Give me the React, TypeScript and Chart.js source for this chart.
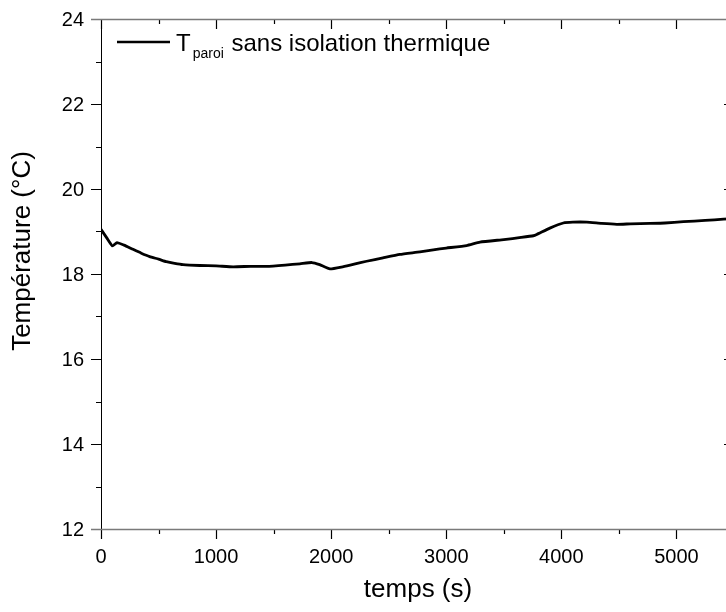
import React, { useEffect, useRef } from "react";
import { Chart, registerables } from "chart.js";

Chart.register(...registerables);

// Data
const times: number[] = [0, 50, 99, 139, 200, 278, 350, 423, 500, 568, 640, 713, 858, 1000, 1148, 1300, 1438, 1600, 1728, 1832, 1900, 1989, 2100, 2200, 2308, 2450, 2597, 2771, 2887, 3000, 3177, 3293, 3500, 3650, 3757, 3786, 3900, 4017, 4100, 4221, 4350, 4482, 4600, 4771, 4900, 5061, 5250, 5409, 5500];
const temps: number[] = [19.05, 18.85, 18.66, 18.74, 18.68, 18.58, 18.49, 18.41, 18.35, 18.29, 18.25, 18.22, 18.2, 18.19, 18.17, 18.18, 18.18, 18.21, 18.24, 18.27, 18.22, 18.12, 18.17, 18.23, 18.3, 18.38, 18.46, 18.52, 18.57, 18.61, 18.67, 18.75, 18.81, 18.86, 18.9, 18.93, 19.08, 19.2, 19.22, 19.22, 19.19, 19.17, 19.18, 19.19, 19.2, 19.23, 19.26, 19.29, 19.3];

const xTicks: number[] = [0, 1000, 2000, 3000, 4000, 5000];
const xMinorTicks: number[] = [500, 1500, 2500, 3500, 4500, 5500];
const yTicks: number[] = [12, 14, 16, 18, 20, 22, 24];
const yMinorTicks: number[] = [13, 15, 17, 19, 21, 23];

const xTitle = "temps (s)";
const yTitle = "Température (°C)";
const legendMain = "T";
const legendSub = "paroi";
const legendRest = " sans isolation thermique";

const FONT = '"Liberation Sans", Arial, sans-serif';

const axesPlugin = {
  id: "originAxes",
  afterDraw(chart: any) {
    const ctx = chart.ctx as CanvasRenderingContext2D;
    const { left, right, top, bottom } = chart.chartArea;
    const xs = chart.scales.x;
    const ys = chart.scales.y;
    ctx.save();

    // left axis
    ctx.strokeStyle = "#000";
    ctx.lineWidth = 1;
    ctx.beginPath();
    ctx.moveTo(left + 0.5, top);
    ctx.lineTo(left + 0.5, bottom);
    ctx.stroke();
    // right axis
    ctx.beginPath();
    ctx.moveTo(right + 0.5, top);
    ctx.lineTo(right + 0.5, bottom);
    ctx.stroke();

    // y ticks
    ctx.lineWidth = 1.2;
    ctx.strokeStyle = "#000";
    yTicks.forEach((v) => {
      const py = Math.round(ys.getPixelForValue(v)) + 0.5;
      ctx.beginPath();
      ctx.moveTo(left - 10, py);
      ctx.lineTo(left, py);
      ctx.moveTo(right - 10, py);
      ctx.lineTo(right, py);
      ctx.stroke();
    });
    yMinorTicks.forEach((v) => {
      const py = Math.round(ys.getPixelForValue(v)) + 0.5;
      ctx.beginPath();
      ctx.moveTo(left - 5, py);
      ctx.lineTo(left, py);
      ctx.moveTo(right - 5, py);
      ctx.lineTo(right, py);
      ctx.stroke();
    });

    // x ticks (bottom outward, top inward)
    xTicks.forEach((v) => {
      const px = Math.round(xs.getPixelForValue(v)) + 0.5;
      ctx.beginPath();
      ctx.moveTo(px, bottom);
      ctx.lineTo(px, bottom + 10);
      ctx.moveTo(px, top);
      ctx.lineTo(px, top + 10);
      ctx.stroke();
    });
    xMinorTicks.forEach((v) => {
      const px = Math.round(xs.getPixelForValue(v)) + 0.5;
      ctx.beginPath();
      ctx.moveTo(px, bottom);
      ctx.lineTo(px, bottom + 5);
      ctx.moveTo(px, top);
      ctx.lineTo(px, top + 5);
      ctx.stroke();
    });

    // top and bottom axis lines (gray)
    ctx.strokeStyle = "#7a7a7a";
    ctx.lineWidth = 1.5;
    ctx.beginPath();
    ctx.moveTo(left - 10, top + 0.5);
    ctx.lineTo(right, top + 0.5);
    ctx.moveTo(left - 10, bottom + 0.5);
    ctx.lineTo(right, bottom + 0.5);
    ctx.stroke();

    // tick labels
    ctx.fillStyle = "#000";
    ctx.font = `20px ${FONT}`;
    ctx.textAlign = "right";
    ctx.textBaseline = "middle";
    yTicks.forEach((v) => {
      const py = ys.getPixelForValue(v);
      ctx.fillText(String(v), left - 17, py + 1);
    });
    ctx.textAlign = "center";
    ctx.textBaseline = "alphabetic";
    xTicks.forEach((v) => {
      const px = xs.getPixelForValue(v);
      ctx.fillText(String(v), px, bottom + 34);
    });

    // axis titles
    ctx.font = `26px ${FONT}`;
    ctx.textAlign = "center";
    ctx.fillText(xTitle, 418, 597);
    ctx.save();
    ctx.translate(30, 251);
    ctx.rotate(-Math.PI / 2);
    ctx.fillText(yTitle, 0, 0);
    ctx.restore();

    // legend
    ctx.strokeStyle = "#000";
    ctx.lineWidth = 2.5;
    ctx.beginPath();
    ctx.moveTo(117, 42);
    ctx.lineTo(170, 42);
    ctx.stroke();
    ctx.textAlign = "left";
    ctx.textBaseline = "alphabetic";
    ctx.font = `24px ${FONT}`;
    let x = 176;
    ctx.fillText(legendMain, x, 51);
    x += ctx.measureText(legendMain).width + 2;
    ctx.font = `14px ${FONT}`;
    ctx.fillText(legendSub, x, 58);
    x += ctx.measureText(legendSub).width + 1;
    ctx.font = `24px ${FONT}`;
    ctx.fillText(legendRest, x, 51);

    ctx.restore();
  },
};

export default function App() {
  const ref = useRef<HTMLCanvasElement | null>(null);
  useEffect(() => {
    if (!ref.current) return;
    const points = times.map((t, i) => ({ x: t, y: temps[i] }));
    const chart = new Chart(ref.current, {
      type: "line",
      data: {
        datasets: [
          {
            label: "Tparoi sans isolation thermique",
            data: points,
            borderColor: "#000",
            borderWidth: 2.8,
            pointRadius: 0,
            tension: 0.15,
            fill: false,
          },
        ],
      },
      options: {
        animation: false,
        responsive: false,
        maintainAspectRatio: false,
        devicePixelRatio: 1,
        layout: { padding: { left: 101, top: 19, right: 6, bottom: 83 } },
        scales: {
          x: { type: "linear", min: 0, max: 5500, display: false },
          y: { type: "linear", min: 12, max: 24, display: false },
        },
        plugins: {
          legend: { display: false },
          tooltip: { enabled: false },
        },
      },
      plugins: [axesPlugin],
    });
    return () => chart.destroy();
  }, []);
  return (
    <div
      style={{
        position: "fixed",
        left: 0,
        top: 0,
        width: 726,
        height: 612,
        overflow: "hidden",
        background: "#fff",
      }}
    >
      <canvas ref={ref} width={740} height={612} style={{ display: "block" }} />
    </div>
  );
}
